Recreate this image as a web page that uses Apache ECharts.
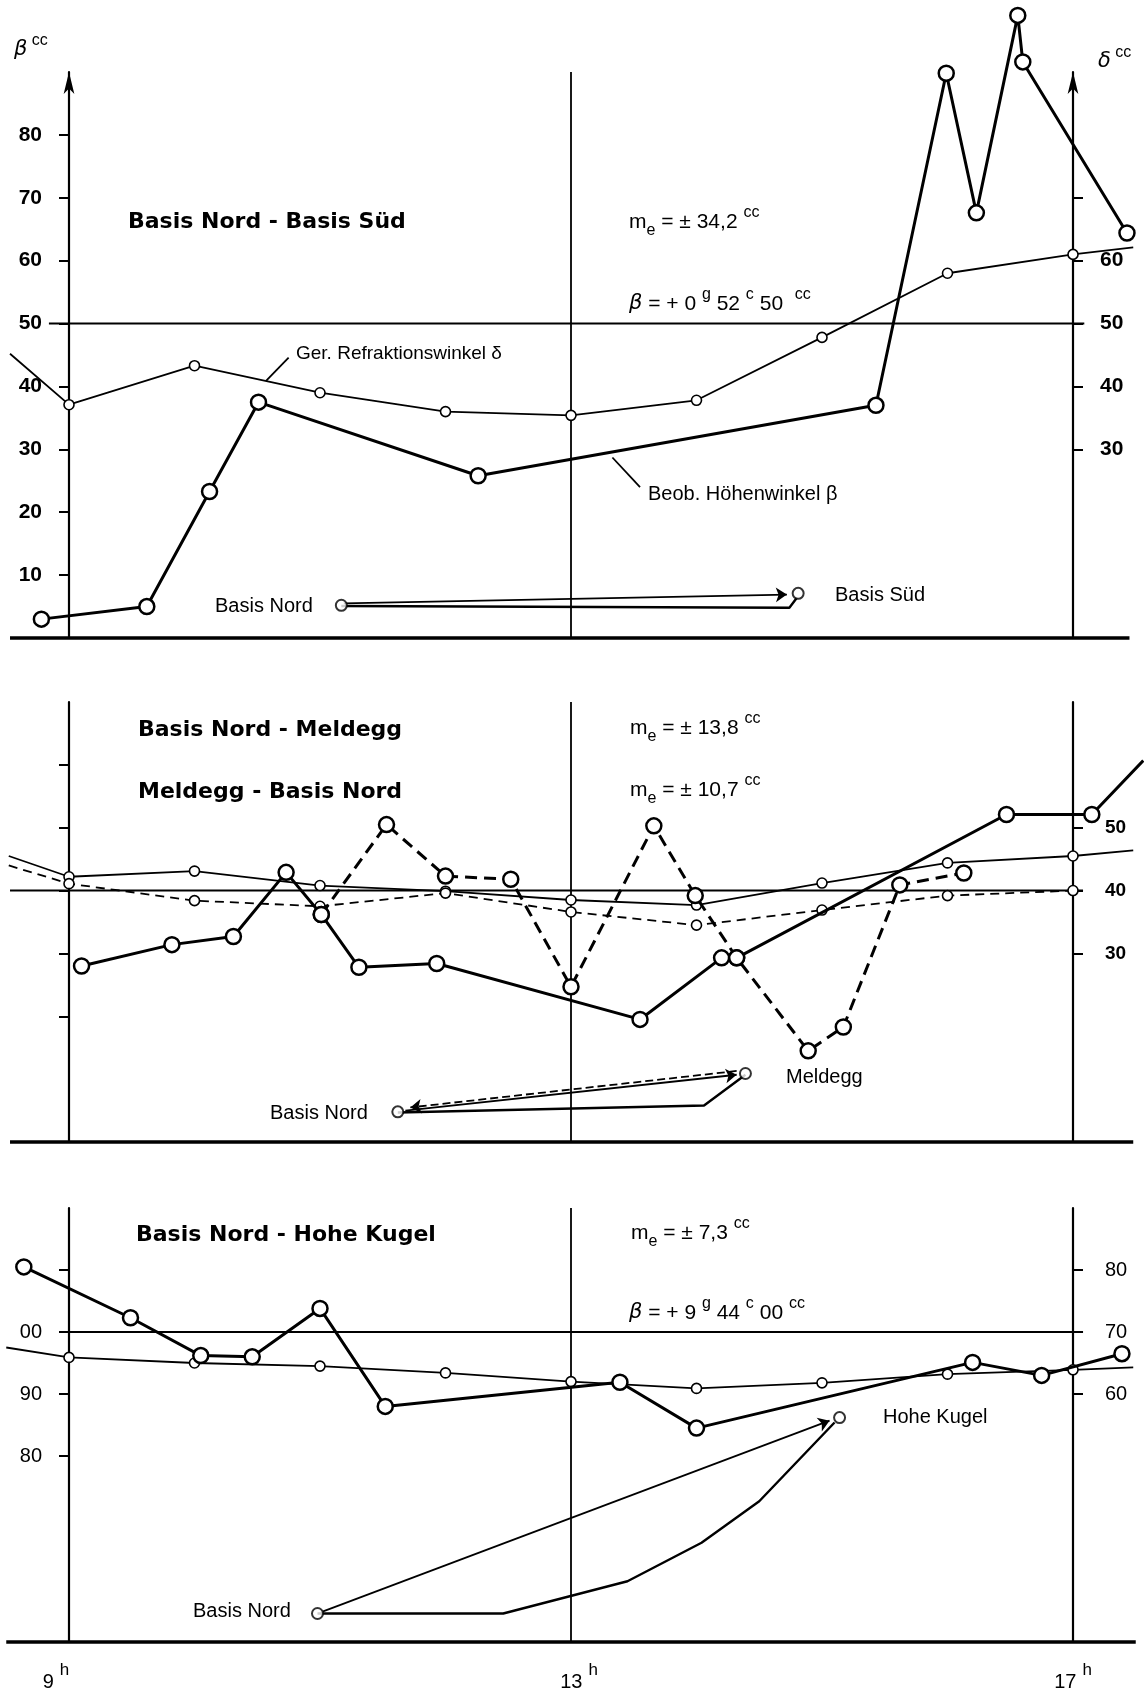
<!DOCTYPE html>
<html><head><meta charset="utf-8">
<script src="https://cdn.jsdelivr.net/npm/echarts@6/dist/echarts.min.js"></script>
<style>html,body{margin:0;padding:0;background:#fff}#c{width:1144px;height:1688px}</style>
</head><body><div id="c"></div>
<script>
// ================= DATA (hour, value in cc) =================
// Panel 1: Basis Nord - Basis Süd
const p1Delta = [[9,37.1],[10,43.3],[11,39.0],[12,36.0],[13,35.4],[14,37.8],[15,47.8],[16,58.0],[17,61.0]];
const p1DeltaEnds = [[8.53,45.2],[17.48,62.1]];
const p1Beta = [[8.78,3.0],[9.62,5.0],[10.12,23.3],[10.51,37.5],[12.26,25.8],[15.43,37.0],[15.99,89.8],[16.23,67.6],[16.56,99.0],[16.60,91.6],[17.43,64.4]];
const p1RefValue = 50;
const p1RefSpan = [8.84, 17.09];
const p1MiniStations = [[11.17,5.2],[14.81,7.1]];
const p1MiniArrow = [[11.19,5.5],[14.72,6.9]];
const p1MiniPath = [[11.17,5.1],[14.74,4.8],[14.80,6.4]];
const p1GerLeader = [[10.57,40.9],[10.75,44.6]];
const p1BeobLeader = [[13.33,28.7],[13.55,24.0]];

// Panel 2: Basis Nord - Meldegg (solid) / Meldegg - Basis Nord (dashed)
const p2DeltaA = [[9,42.2],[10,43.1],[11,40.8],[12,39.9],[13,38.5],[14,37.7],[15,41.2],[16,44.4],[17,45.5]];
const p2DeltaAEnds = [[8.52,45.5],[17.48,46.4]];
const p2DeltaB = [[9,41.1],[10,38.4],[11,37.5],[12,39.6],[13,36.6],[14,34.5],[15,36.9],[16,39.2],[17,40.0]];
const p2DeltaBStart = [8.52,44.0];
const p2BetaNM = [[9.10,28.0],[9.82,31.4],[10.31,32.7],[10.73,42.9],[11.01,36.2],[11.31,27.8],[11.93,28.4],[13.55,19.5],[14.20,29.3],[14.32,29.3],[16.47,52.1],[17.15,52.1]];
const p2BetaNMEnd = [17.56,60.7];
const p2BetaMN = [[11.01,36.2],[11.53,50.5],[12.0,42.3],[12.52,41.8],[13.0,24.7],[13.66,50.3],[13.99,39.2],[14.32,29.3],[14.89,14.5],[15.17,18.3],[15.62,40.9],[16.13,42.8]];
const p2RefValue = 40;
const p2RefSpan = [8.53, 17.08];
const p2MiniStations = [[11.62,4.8],[14.39,10.9]];
const p2MiniArrowNM = [[11.68,5.0],[14.32,10.7]];
const p2MiniArrowMN = [[14.32,11.3],[11.72,5.5]];
const p2MiniPath = [[11.62,4.7],[14.06,5.8],[14.39,10.7]];

// Panel 3: Basis Nord - Hohe Kugel (beta on left scale, delta on right scale)
const p3Delta = [[9,65.9],[10,65.0],[11,64.5],[12,63.4],[13,62.0],[14,60.9],[15,61.8],[16,63.2],[17,63.9]];
const p3DeltaEnds = [[8.5,67.5],[17.48,64.3]];
const p3Beta = [[8.64,110.5],[9.49,102.3],[10.05,96.2],[10.46,96.0],[11.0,103.8],[11.52,88.0],[13.39,91.9],[14.0,84.5],[16.2,95.1],[16.75,93.0],[17.39,96.5]];
const p3RefValue = 100;
const p3RefSpan = [8.94, 17.08];
const p3MiniStations = [[10.98,54.6],[15.14,86.2]];
const p3MiniArrow = [[11.02,54.9],[15.06,85.7]];
const p3MiniPath = [[10.98,54.6],[12.46,54.6],[13.45,59.8],[14.04,66.0],[14.5,72.7],[15.1,85.4]];

// Frame extents
const bottomSpans = [[8.53,17.45],[8.53,17.48],[8.5,17.5]];
const noonHour = 13;

// Axis ticks / labels
const leftTicks = [[10,20,30,40,50,60,70,80],[20,30,40,50,60],[80,90,100,110]];
const leftLabels = [[10,20,30,40,50,60,70,80],[],[80,90,100]];
const rightTicks = [[30,40,50,60,70],[30,40,50],[60,70,80]];
const rightLabels = [[30,40,50,60],[30,40,50],[60,70,80]];
const hourLabels = [9,13,17];
const yRangesLeft = [[0,90],[0,70],[50,120]];
const yRangesRight = [[0,90],[0,70],[20,90]];

// ================= CHART =================
const BLACK = '#000';
const W = 1144, AX_L = 69, AX_R = 1073;
const PX_PER_H = (AX_R - AX_L) / 8;
const X_MIN = 9 - AX_L / PX_PER_H, X_MAX = 17 + (W - AX_R) / PX_PER_H;
const grids = [
  {left:0, right:0, top:72, height:566, outerBoundsMode:'none'},
  {left:0, right:0, top:702, height:440, outerBoundsMode:'none'},
  {left:0, right:0, top:1208, height:434, outerBoundsMode:'none'}
];
const hourLabelShift = {9:'{n|9}{h|h}{pad|}', 13:'{pad2|}{n|13}{h|h}', 17:'{n|17}{h|h}'};

const xAxes = grids.map((g,i)=>({
  type:'value', gridIndex:i, min:X_MIN, max:X_MAX, show: i===2,
  axisLine:{show:false}, axisTick:{show:false}, splitLine:{show:false},
  axisLabel:{
    customValues: hourLabels, margin: 20,
    formatter: v => hourLabelShift[v] || ('{n|' + v + '}{h|h}'),
    rich:{
      n:{fontSize:20, fontFamily:'Liberation Sans', color:BLACK, lineHeight:30, verticalAlign:'bottom'},
      h:{fontSize:17, fontFamily:'Liberation Sans', color:BLACK, padding:[0,0,0,6], verticalAlign:'top'},
      pad:{width:26},
      pad2:{width:16}
    }
  }
}));

const yAxes = [];
grids.forEach((g,i)=>{
  const bold = i < 2 ? 'bold' : 'normal';
  const lblSize = [21, 19, 20][i];
  const fmt = v => (i===2 ? String(v % 100).padStart(2,'0') : String(v));
  const arrowSym = i===0 ? ['none','arrow'] : ['none','none'];
  yAxes.push({
    type:'value', gridIndex:i, position:'left', offset:-AX_L, min:yRangesLeft[i][0], max:yRangesLeft[i][1], interval:10,
    splitLine:{show:false},
    axisLine:{show:true, onZero:false, lineStyle:{color:BLACK, width:2.2}, symbol:arrowSym, symbolSize:[8,22], symbolOffset:[0,0]},
    axisTick:{show:true, inside:false, length:10, customValues:leftTicks[i], lineStyle:{color:BLACK, width:2}},
    axisLabel:{show: leftLabels[i].length>0, customValues:leftLabels[i].length?leftLabels[i]:[0], margin:27, color:BLACK,
      fontFamily:'Liberation Sans', fontSize:lblSize, fontWeight:bold, formatter:fmt}
  });
  yAxes.push({
    type:'value', gridIndex:i, position:'right', offset:-(W-AX_R), min:yRangesRight[i][0], max:yRangesRight[i][1], interval:10,
    splitLine:{show:false},
    axisLine:{show:true, onZero:false, lineStyle:{color:BLACK, width:2.2}, symbol:arrowSym, symbolSize:[8,22], symbolOffset:[0,0]},
    axisTick:{show:true, inside:false, length:10, customValues:rightTicks[i], lineStyle:{color:BLACK, width:2}},
    axisLabel:{show:true, customValues:rightLabels[i], margin: i===0?27:32, color:BLACK,
      fontFamily:'Liberation Sans', fontSize:lblSize, fontWeight:bold}
  });
});

const series = [];
function plain(i, right, data, width, type, z){
  series.push({type:'line', xAxisIndex:i, yAxisIndex:2*i+(right?1:0), data, clip:false, symbol:'none',
    silent:true, animation:false, z: z||2,
    lineStyle:{color:BLACK, width, type: type||'solid'}});
}
function withEnds(points, start, end){
  const d = points.map(p=>({value:p}));
  if (start) d.unshift({value:start, symbol:'none'});
  if (end) d.push({value:end, symbol:'none'});
  return d;
}
function marked(i, right, data, big, dashed){
  series.push({type:'line', xAxisIndex:i, yAxisIndex:2*i+(right?1:0), data, clip:false,
    symbol:'circle', symbolSize: big?15:10, showSymbol:true, silent:true, animation:false, z: big?4:3,
    lineStyle:{color:BLACK, width: big?3:1.8, type: dashed ? (big?[12,7]:[9,6]) : 'solid'},
    itemStyle:{color:'#fff', borderColor:BLACK, borderWidth: big?2.5:1.6}});
}
function arrow(i, coords, dashed){
  series.push({type:'lines', coordinateSystem:'cartesian2d', xAxisIndex:i, yAxisIndex:2*i,
    symbol:['none','arrow'], symbolSize:11, silent:true, animation:false, z:3,
    lineStyle:{color:BLACK, width:1.8, type: dashed?[8,4]:'solid', opacity:1},
    data:[{coords}]});
}
function stations(i, pts){
  series.push({type:'scatter', xAxisIndex:i, yAxisIndex:2*i, data:pts, symbol:'circle', symbolSize:11,
    silent:true, animation:false, z:5, itemStyle:{color:'#fff', borderColor:BLACK, borderWidth:2}});
}

const refValues = [p1RefValue, p2RefValue, p3RefValue];
const refSpans = [p1RefSpan, p2RefSpan, p3RefSpan];
for (let i=0;i<3;i++){
  plain(i, false, [[bottomSpans[i][0], yRangesLeft[i][0]],[bottomSpans[i][1], yRangesLeft[i][0]]], 3.6);
  plain(i, false, [[refSpans[i][0], refValues[i]],[refSpans[i][1], refValues[i]]], 2);
  plain(i, false, [[noonHour, yRangesLeft[i][0]],[noonHour, yRangesLeft[i][1]]], 1.8);
}

// Panel 1
marked(0, true, withEnds(p1Delta, p1DeltaEnds[0], p1DeltaEnds[1]), false, false);
marked(0, false, withEnds(p1Beta), true, false);
plain(0, false, p1GerLeader, 1.8);
plain(0, false, p1BeobLeader, 1.8);
plain(0, false, p1MiniPath, 2.4);
arrow(0, p1MiniArrow, false);
stations(0, p1MiniStations);

// Panel 2
marked(1, true, withEnds(p2DeltaA, p2DeltaAEnds[0], p2DeltaAEnds[1]), false, false);
marked(1, true, withEnds(p2DeltaB, p2DeltaBStart), false, true);
marked(1, false, withEnds(p2BetaNM, null, p2BetaNMEnd), true, false);
marked(1, false, withEnds(p2BetaMN), true, true);
plain(1, false, p2MiniPath, 2.4);
arrow(1, p2MiniArrowNM, false);
arrow(1, p2MiniArrowMN, true);
stations(1, p2MiniStations);

// Panel 3
marked(2, true, withEnds(p3Delta, p3DeltaEnds[0], p3DeltaEnds[1]), false, false);
marked(2, false, withEnds(p3Beta), true, false);
plain(2, false, p3MiniPath, 2.4);
arrow(2, p3MiniArrow, false);
stations(2, p3MiniStations);

// ---------- Text annotations ----------
const F = 'Liberation Sans';
const baseRich = {
  t:{fontSize:21, fontFamily:F, fill:BLACK, color:BLACK, lineHeight:34, verticalAlign:'middle'},
  sup:{fontSize:16, fontFamily:F, fill:BLACK, color:BLACK, verticalAlign:'top'},
  sub:{fontSize:16, fontFamily:F, fill:BLACK, color:BLACK, verticalAlign:'bottom'},
  g:{fontSize:21, fontFamily:'DejaVu Sans', fontStyle:'italic', fill:BLACK, color:BLACK, lineHeight:34, verticalAlign:'middle'}
};
function text(x, y, str, opt){
  opt = opt || {};
  return {type:'text', x, y, silent:true, z:10,
    style:Object.assign({text:str, fill:BLACK, align:'left', verticalAlign:'middle', textAlign:'left', textVerticalAlign:'middle',
      font: opt.font || ('20px ' + F), rich: baseRich}, opt.style||{})};
}
const titleFont = 'bold 22px "DejaVu Sans"';
const smallFont = '19px "Liberation Sans"';
const graphics = [
  text(14, 50, '{g|β}{sup| cc}'),
  text(1098, 62, '{g|δ}{sup| cc}'),
  // Panel 1
  text(128, 222, 'Basis Nord - Basis Süd', {font:titleFont}),
  text(629, 222, '{t|m}{sub|e}{t| = ± 34,2 }{sup|cc}'),
  text(629, 304, '{g|β}{t| = + 0 }{sup|g}{t| 52 }{sup|c}{t| 50  }{sup|cc}'),
  text(296, 354, 'Ger. Refraktionswinkel δ', {font:smallFont}),
  text(648, 494, 'Beob. Höhenwinkel β'),
  text(215, 606, 'Basis Nord'),
  text(835, 595, 'Basis Süd'),
  // Panel 2
  text(138, 730, 'Basis Nord - Meldegg', {font:titleFont}),
  text(138, 792, 'Meldegg - Basis Nord', {font:titleFont}),
  text(630, 728, '{t|m}{sub|e}{t| = ± 13,8 }{sup|cc}'),
  text(630, 790, '{t|m}{sub|e}{t| = ± 10,7 }{sup|cc}'),
  text(270, 1113, 'Basis Nord'),
  text(786, 1077, 'Meldegg'),
  // Panel 3
  text(136, 1235, 'Basis Nord - Hohe Kugel', {font:titleFont}),
  text(631, 1233, '{t|m}{sub|e}{t| = ± 7,3 }{sup|cc}'),
  text(629, 1313, '{g|β}{t| = + 9 }{sup|g}{t| 44 }{sup|c}{t| 00 }{sup|cc}'),
  text(883, 1417, 'Hohe Kugel'),
  text(193, 1611, 'Basis Nord')
];

const chart = echarts.init(document.getElementById('c'), null, {renderer:'canvas'});
chart.setOption({
  animation:false,
  backgroundColor:'#fff',
  textStyle:{fontFamily:F, color:BLACK},
  grid: grids,
  xAxis: xAxes,
  yAxis: yAxes,
  series: series,
  graphic: graphics
});
</script>
</body></html>
